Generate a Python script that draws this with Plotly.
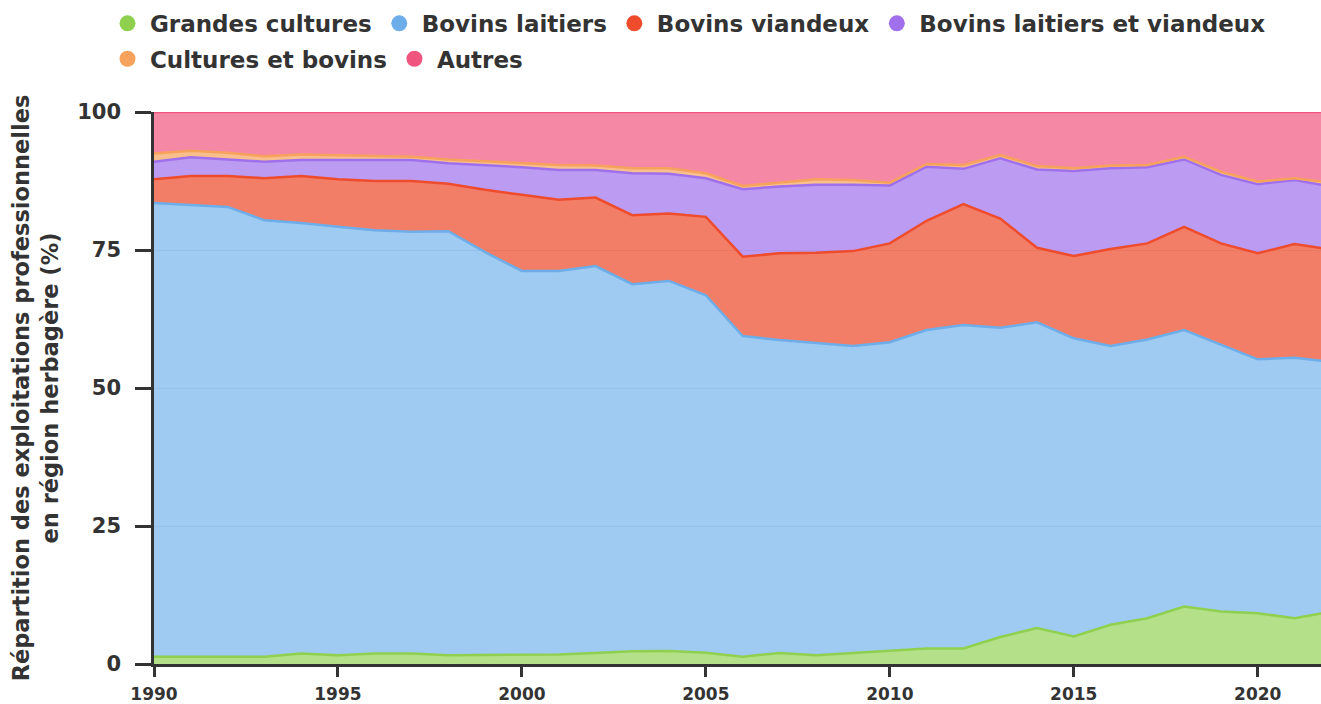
import plotly.graph_objects as go

years = list(range(1990, 2023))

# cumulative tops (%), converted below to individual shares
grandes_cultures = [1.3, 1.3, 1.3, 1.3, 1.9, 1.6, 1.9, 1.9, 1.6, 1.6, 1.6, 1.7, 2.0, 2.3, 2.35, 2.05,
                    1.3, 2.0, 1.6, 2.0, 2.3, 2.8, 2.8, 4.9, 6.5, 5.0, 7.1, 8.3, 10.4, 9.5, 9.2, 8.3, 9.5]
top_bovins_laitiers = [83.5, 83.2, 82.8, 80.4, 79.9, 79.2, 78.6, 78.3, 78.4, 74.6, 71.2, 71.2, 72.1, 68.8,
                       69.4, 66.8, 59.4, 58.7, 58.2, 57.6, 58.3, 60.5, 61.4, 60.9, 61.9, 59.0, 57.6, 58.8,
                       60.5, 57.8, 55.2, 55.5, 54.7]
top_bovins_viandeux = [87.8, 88.4, 88.4, 88.0, 88.4, 87.8, 87.5, 87.5, 87.0, 85.9, 85.0, 84.1, 84.5, 81.3,
                       81.6, 81.0, 73.8, 74.4, 74.5, 74.8, 76.2, 80.3, 83.3, 80.7, 75.4, 73.9, 75.2, 76.2,
                       79.2, 76.2, 74.4, 76.1, 75.1]
top_laitiers_viandeux = [91.0, 91.8, 91.4, 91.0, 91.3, 91.3, 91.3, 91.3, 90.7, 90.4, 90.0, 89.5, 89.5, 88.9,
                         88.8, 88.0, 86.0, 86.5, 86.8, 86.8, 86.7, 90.1, 89.7, 91.6, 89.6, 89.3, 89.8, 90.0,
                         91.4, 88.6, 86.9, 87.7, 86.5]
top_cultures_bovins = [92.5, 93.0, 92.6, 92.0, 92.3, 92.2, 92.0, 91.9, 91.4, 91.1, 90.8, 90.4, 90.3, 89.8,
                       89.8, 88.9, 86.6, 87.2, 87.8, 87.7, 87.2, 90.6, 90.4, 92.2, 90.2, 89.8, 90.3, 90.4,
                       91.9, 89.2, 87.4, 88.0, 87.2]

bovins_laitiers = [round(b - g, 2) for b, g in zip(top_bovins_laitiers, grandes_cultures)]
bovins_viandeux = [round(v - b, 2) for v, b in zip(top_bovins_viandeux, top_bovins_laitiers)]
laitiers_viandeux = [round(l - v, 2) for l, v in zip(top_laitiers_viandeux, top_bovins_viandeux)]
cultures_bovins = [round(c - l, 2) for c, l in zip(top_cultures_bovins, top_laitiers_viandeux)]
autres = [round(100 - c, 2) for c in top_cultures_bovins]

series_names = ["Grandes cultures", "Bovins laitiers", "Bovins viandeux",
                "Bovins laitiers et viandeux", "Cultures et bovins", "Autres"]
series_values = [grandes_cultures, bovins_laitiers, bovins_viandeux,
                 laitiers_viandeux, cultures_bovins, autres]
line_colors = ["#8fd14f", "#6daeea", "#ee4c2c", "#a070ec", "#f7a25c", "#f0557f"]
fill_colors = ["rgba(143,209,79,0.68)", "rgba(109,174,234,0.66)", "rgba(238,76,44,0.72)",
               "rgba(160,112,236,0.7)", "rgba(247,162,92,0.7)", "rgba(240,85,127,0.7)"]
legend_rows = ["legend", "legend", "legend", "legend", "legend2", "legend2"]

x_ticks = [1990, 1995, 2000, 2005, 2010, 2015, 2020]
y_ticks = [0, 25, 50, 75, 100]

fig = go.Figure()
for name, vals, lc, fc in zip(series_names, series_values, line_colors, fill_colors):
    fig.add_trace(go.Scatter(
        x=years, y=vals, name=name, mode="lines", stackgroup="one",
        line=dict(color=lc, width=2.5), fillcolor=fc, showlegend=False,
        legendgroup=name,
    ))
for name, lc, lg in zip(series_names, line_colors, legend_rows):
    fig.add_trace(go.Scatter(
        x=[None], y=[None], name=name, mode="markers", legendgroup=name, legend=lg,
        marker=dict(color=lc, size=20, symbol="circle"),
    ))

font_family = "DejaVu Sans"
legend_font = dict(family=font_family, size=23, color="#333333", weight="bold")
fig.update_layout(
    width=1321, height=704,
    margin=dict(l=154, r=0, t=112, b=40, autoexpand=False),
    paper_bgcolor="white", plot_bgcolor="white",
    font=dict(family=font_family, color="#333333"),
    showlegend=True,
    legend=dict(
        orientation="h", x=-0.042, xanchor="left", y=1.1995, yanchor="top",
        font=legend_font, itemsizing="trace", traceorder="normal", itemwidth=35,
    ),
    legend2=dict(
        orientation="h", x=-0.042, xanchor="left", y=1.1353, yanchor="top",
        font=legend_font, itemsizing="trace", traceorder="normal", itemwidth=35,
    ),
    xaxis=dict(
        range=[1990, 2021.72], tickvals=x_ticks, ticktext=[str(t) for t in x_ticks],
        showgrid=False, zeroline=False, automargin=False,
        showline=True, linecolor="#333333", linewidth=2.5,
        ticks="outside", ticklen=10, tickwidth=2.5, tickcolor="#333333",
        ticklabelstandoff=3,
        tickfont=dict(family=font_family, size=17, color="#333333", weight="bold"),
    ),
    yaxis=dict(
        range=[0, 100], tickvals=y_ticks, ticktext=[str(t) for t in y_ticks],
        showgrid=True, gridcolor="rgba(180,180,180,0.35)", gridwidth=1, zeroline=False,
        automargin=False,
        showline=True, linecolor="#333333", linewidth=2.5,
        ticks="outside", ticklen=16, tickwidth=2.5, tickcolor="#333333",
        ticklabelstandoff=10,
        tickfont=dict(family=font_family, size=21, color="#333333", weight="bold"),
        title=dict(text="Répartition des exploitations professionnelles<br>en région herbagère (%)",
                   font=dict(family=font_family, size=22.5, color="#333333", weight="bold"),
                   standoff=13),
    ),
)

fig.write_html(
    "out.html",
    config={"displayModeBar": False},
    post_script="document.body.style.margin='0';document.body.style.overflow='hidden';",
)
